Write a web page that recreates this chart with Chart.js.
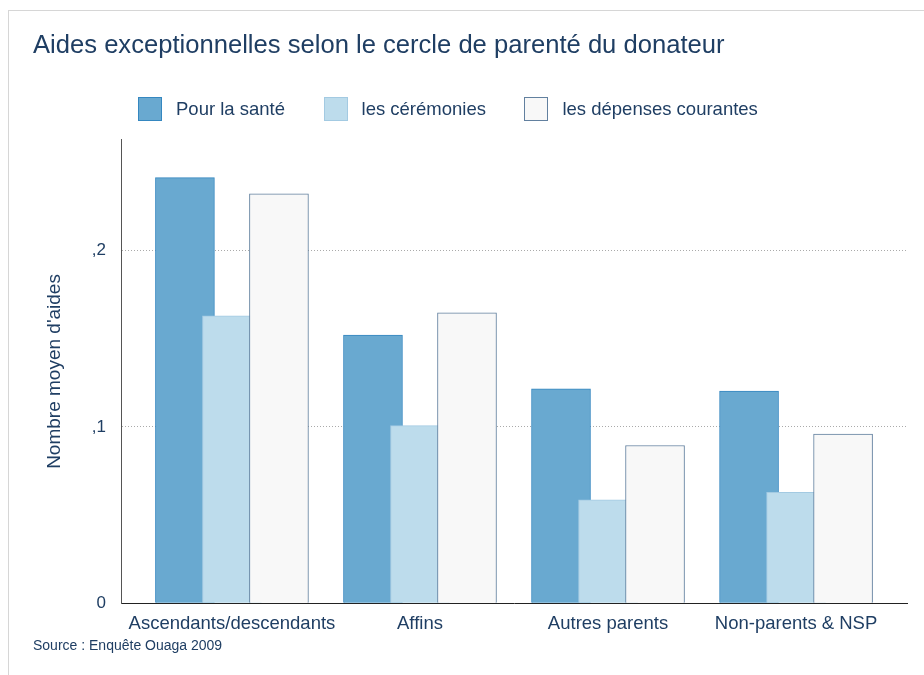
<!DOCTYPE html>
<html>
<head>
<meta charset="utf-8">
<script src="https://cdn.jsdelivr.net/npm/chart.js@4.4.1/dist/chart.umd.min.js"></script>
<style>
  html, body { margin: 0; padding: 0; background: #fff; }
  #wrap { position: relative; width: 924px; height: 675px; overflow: hidden; }
  #frame { position: absolute; left: 8px; top: 10px; width: 940px; height: 700px;
           border-left: 1px solid #d6d6d6; border-top: 1px solid #d6d6d6; }
  #chart { position: absolute; left: 0; top: 0; }
  #legend { position: absolute; left: 138px; top: 97px; display: flex;
            font: 18.5px "Liberation Sans", Arial, sans-serif; color: #1f3e63; }
  .item { display: flex; align-items: center; height: 24px; margin-right: 38.5px; }
  .box { width: 22px; height: 22px; margin-right: 14px; border: 1px solid; }
</style>
</head>
<body>
<div id="wrap">
  <div id="frame"></div>
  <canvas id="chart" width="924" height="675"></canvas>
  <div id="legend"></div>
</div>
<script>
const categories = ["Ascendants/descendants", "Affins", "Autres parents", "Non-parents & NSP"];
const seriesNames = ["Pour la santé", "les cérémonies", "les dépenses courantes"];
const sante = [0.2415, 0.1522, 0.1216, 0.1203];
const ceremonies = [0.1630, 0.1008, 0.0587, 0.0629];
const depenses = [0.2323, 0.1648, 0.0895, 0.0959];
const yTicks = [0, 0.1, 0.2];
const yTickLabels = ["0", ",1", ",2"];

const navy = "#1f3e63";
const font = '"Liberation Sans", Arial, sans-serif';
const fills = ["#69a9d0", "#bddcec", "#f8f8f8"];
const borders = ["#3587c0", "#a3cae2", "#62809f"];
// bars of a group overlap a bit, so each series sits at a fixed offset
const offsets = [-0.25, 0, 0.25];

const datasets = [sante, ceremonies, depenses].map((vals, k) => ({
  label: seriesNames[k],
  data: vals.map((v, i) => ({ x: i + offsets[k], y: v })),
  backgroundColor: fills[k],
  borderColor: borders[k],
  borderWidth: 1,
  barThickness: 59,
  grouped: false,
  order: 2 - k, // later series drawn on top
}));

// html legend
const legend = document.getElementById("legend");
seriesNames.forEach((name, k) => {
  const item = document.createElement("div");
  item.className = "item";
  const box = document.createElement("span");
  box.className = "box";
  box.style.background = fills[k];
  box.style.borderColor = borders[k];
  const txt = document.createElement("span");
  txt.textContent = name;
  item.appendChild(box);
  item.appendChild(txt);
  legend.appendChild(item);
});

new Chart(document.getElementById("chart"), {
  type: "bar",
  data: { datasets: datasets },
  options: {
    responsive: false,
    animation: false,
    layout: { padding: { left: 33, right: 17, top: 0, bottom: 0 } },
    plugins: {
      legend: { display: false },
      tooltip: { enabled: false },
      title: {
        display: true,
        text: "Aides exceptionnelles selon le cercle de parenté du donateur",
        align: "start",
        color: navy,
        font: { family: font, size: 25.6, weight: "normal" },
        padding: { top: 31, bottom: 78 },
      },
      subtitle: {
        display: true,
        position: "bottom",
        text: "Source : Enquête Ouaga 2009",
        align: "start",
        color: navy,
        font: { family: font, size: 14, weight: "normal" },
        padding: { top: 3, bottom: 20 },
      },
    },
    scales: {
      x: {
        type: "linear",
        offset: false,
        min: -0.59,
        max: 3.59,
        afterBuildTicks: (axis) => { axis.ticks = categories.map((c, i) => ({ value: i })); },
        afterFit: (axis) => { axis.height = 32; },
        ticks: {
          callback: (v) => categories[v],
          color: navy,
          font: { family: font, size: 18.5 },
          padding: 10,
          maxRotation: 0,
          autoSkip: false,
        },
        grid: { display: false, drawTicks: false },
        border: { display: true, color: "#222", width: 1 },
      },
      y: {
        min: 0,
        max: 0.263,
        afterBuildTicks: (axis) => { axis.ticks = yTicks.map((v) => ({ value: v })); },
        afterFit: (axis) => { axis.width = 88; },
        ticks: {
          callback: (v) => yTickLabels[yTicks.indexOf(v)],
          color: navy,
          font: { family: font, size: 17 },
          padding: 15,
        },
        grid: { color: "#aaa", lineWidth: 1, drawTicks: false },
        border: { display: true, color: "#555", width: 1, dash: [1, 2] },
        title: {
          display: true,
          text: "Nombre moyen d'aides",
          color: navy,
          font: { family: font, size: 19 },
          padding: { top: 10, bottom: 0 },
        },
      },
    },
  },
});
</script>
</body>
</html>
